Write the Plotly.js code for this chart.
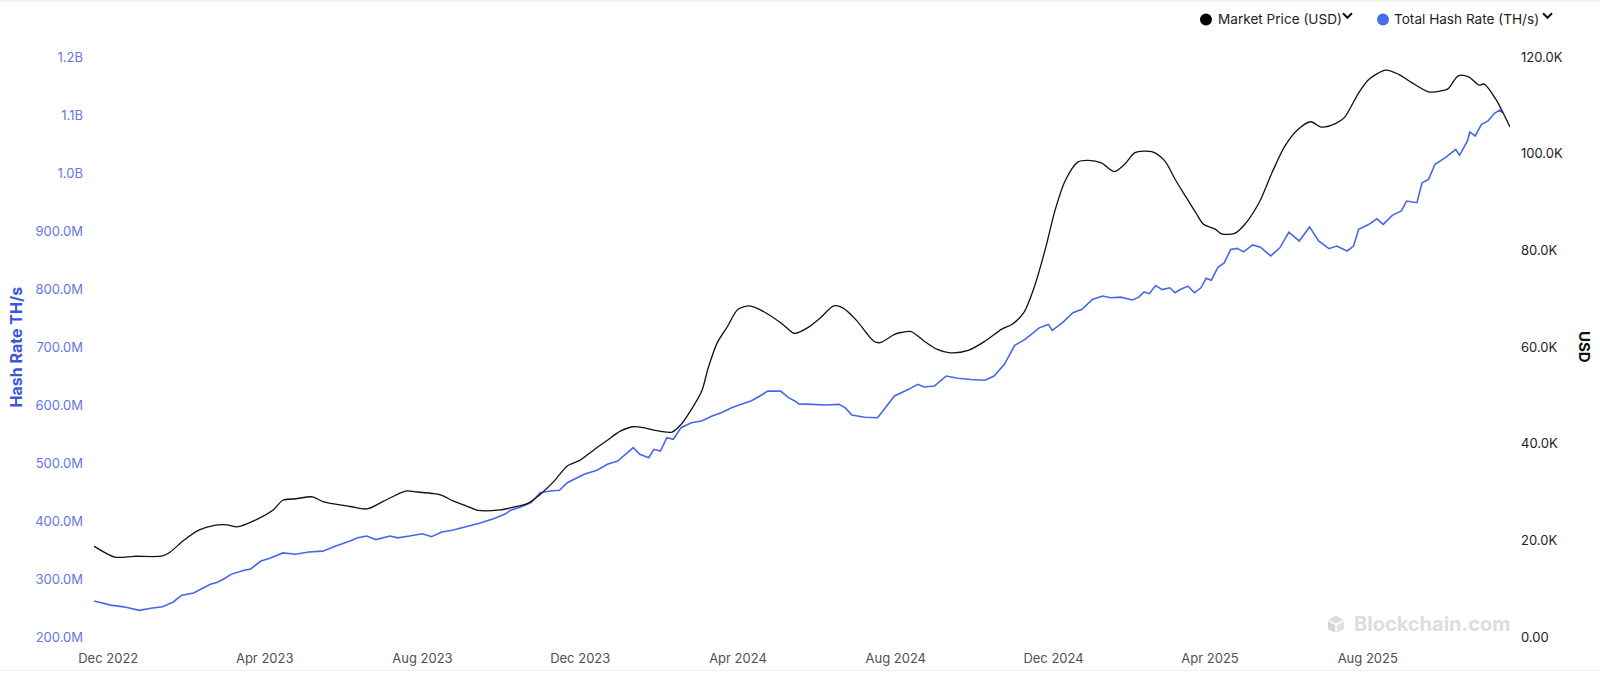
<!DOCTYPE html>
<html>
<head>
<meta charset="utf-8">
<script src="https://cdn.plot.ly/plotly-3.0.1.min.js"></script>
<style>
  html, body { margin: 0; padding: 0; background: #ffffff; }
  #chart { width: 1600px; height: 680px; }
</style>
</head>
<body>
<div id="chart"></div>
<script>
// ---- Market Price (USD), 30-day average ----
const priceDates = [
  '2022-11-20','2022-12-06','2022-12-21','2023-01-12','2023-01-18','2023-01-28','2023-02-09','2023-02-21',
  '2023-03-03','2023-03-11','2023-03-26','2023-04-08','2023-04-15','2023-04-25','2023-05-08','2023-05-16',
  '2023-06-06','2023-06-19','2023-07-02','2023-07-19','2023-07-28','2023-08-10','2023-08-16','2023-08-25',
  '2023-09-04','2023-09-13','2023-09-30','2023-10-11','2023-10-21','2023-10-31','2023-11-11','2023-11-21',
  '2023-12-01','2023-12-12','2023-12-22','2024-01-01','2024-01-11','2024-01-19','2024-01-27','2024-02-10',
  '2024-02-17','2024-02-25','2024-03-04','2024-03-09','2024-03-16','2024-03-24','2024-04-01','2024-04-10',
  '2024-04-21','2024-05-04','2024-05-13','2024-05-15','2024-05-25','2024-06-04','2024-06-14','2024-06-21',
  '2024-07-02','2024-07-09','2024-07-15','2024-07-20','2024-07-31','2024-08-05','2024-08-13','2024-08-23',
  '2024-09-02','2024-09-12','2024-09-26','2024-10-09','2024-10-22','2024-10-30','2024-11-08','2024-11-16',
  '2024-11-25','2024-12-02','2024-12-10','2024-12-20','2024-12-28','2025-01-07','2025-01-17','2025-01-25',
  '2025-02-02','2025-02-15','2025-02-25','2025-03-05','2025-03-13','2025-03-21','2025-03-27','2025-04-05',
  '2025-04-10','2025-04-20','2025-04-28','2025-05-09','2025-05-19','2025-05-29','2025-06-08','2025-06-18',
  '2025-06-26','2025-07-07','2025-07-14','2025-07-25','2025-08-02','2025-08-15','2025-08-25','2025-09-04',
  '2025-09-17','2025-09-27','2025-10-02','2025-10-10','2025-10-18','2025-10-26','2025-10-30','2025-11-08',
  '2025-11-19'
];
const priceUSD = [
  18800,16550,16700,16760,17600,19900,22100,23100,
  23200,22800,24350,26400,28300,28600,29000,28000,
  27000,26500,28100,30200,30000,29650,29300,28100,
  27100,26200,26300,26900,27600,29500,32300,35400,
  36600,38800,40700,42600,43500,43300,42800,42400,
  44000,47100,50900,55700,60900,64300,67800,68500,
  67300,65000,63000,62800,64000,66100,68500,68100,
  65400,63000,61200,60900,62600,63000,63200,61200,
  59500,58800,59300,61200,63700,64700,67100,72300,
  80600,88100,94400,98300,98600,98100,96300,97800,
  100200,100400,98500,94700,91200,87800,85400,84400,
  83400,83500,85400,89900,96100,101600,105000,106600,
  105500,106200,107500,112600,115400,117300,116400,114700,
  112800,113000,113400,116100,115900,114200,114400,111300,
  105500
];

// ---- Total Hash Rate (millions of TH/s) ----
const hashDates = [
  '2022-11-20','2022-12-03','2022-12-13','2022-12-25','2023-01-03','2023-01-12','2023-01-20','2023-01-27',
  '2023-02-05','2023-02-18','2023-02-23','2023-02-28','2023-03-06','2023-03-16','2023-03-21','2023-03-29',
  '2023-04-05','2023-04-15','2023-04-25','2023-05-05','2023-05-16','2023-05-26','2023-06-06','2023-06-12',
  '2023-06-19','2023-06-26','2023-07-07','2023-07-13','2023-07-22','2023-08-01','2023-08-08','2023-08-16',
  '2023-08-24','2023-09-03','2023-09-14','2023-09-25','2023-10-04','2023-10-08','2023-10-16','2023-10-24',
  '2023-10-31','2023-11-08','2023-11-15','2023-11-21','2023-11-26','2023-12-04','2023-12-14','2023-12-22',
  '2023-12-30','2024-01-06','2024-01-11','2024-01-16','2024-01-23','2024-01-27','2024-02-01','2024-02-06',
  '2024-02-11','2024-02-17','2024-02-25','2024-03-04','2024-03-12','2024-03-19','2024-03-27','2024-04-03',
  '2024-04-11','2024-04-18','2024-04-24','2024-05-04','2024-05-10','2024-05-15','2024-05-18','2024-05-28',
  '2024-06-08','2024-06-18','2024-06-23','2024-06-28','2024-07-08','2024-07-18','2024-07-24','2024-07-31',
  '2024-08-11','2024-08-18','2024-08-23','2024-08-31','2024-09-09','2024-09-18','2024-09-28','2024-10-09',
  '2024-10-16','2024-10-24','2024-11-01','2024-11-09','2024-11-20','2024-11-27','2024-11-30','2024-12-08',
  '2024-12-16','2024-12-23','2024-12-31','2025-01-08','2025-01-14','2025-01-22','2025-01-31','2025-02-05',
  '2025-02-09','2025-02-13','2025-02-18','2025-02-23','2025-03-01','2025-03-05','2025-03-09','2025-03-15',
  '2025-03-20','2025-03-25','2025-03-29','2025-04-02','2025-04-07','2025-04-12','2025-04-17','2025-04-22',
  '2025-04-27','2025-05-04','2025-05-10','2025-05-18','2025-05-25','2025-06-01','2025-06-09','2025-06-17',
  '2025-06-24','2025-07-02','2025-07-08','2025-07-16','2025-07-21','2025-07-25','2025-08-02','2025-08-08',
  '2025-08-13','2025-08-20','2025-08-27','2025-08-31','2025-09-08','2025-09-12','2025-09-17','2025-09-22',
  '2025-09-30','2025-10-08','2025-10-11','2025-10-17','2025-10-19','2025-10-23','2025-10-28','2025-11-02',
  '2025-11-07','2025-11-11','2025-11-13'
];
const hashRateM = [
  262,255,252,246,249.5,252,260,272,
  276,291,294,299.5,308,315,317,331,
  335.7,345,342.6,346.6,348,357,365.5,371,
  374,368,374,371,374,378,373,381,
  384,390,396,404,412,418.4,424,431.6,
  448.8,451.7,453,466,472,480.5,487.4,497.8,
  503.4,516,526.4,515,509,523.6,520.7,543.6,
  540.9,560.9,569.5,572.4,581,586.7,595.3,601,
  606.9,615.5,624,624,612.6,607,602,601,
  600,601,595,582.8,579,578,595,615.5,
  627,635.7,631,632.8,650,646,644,642.6,
  650,670,703,713,733,739,728.8,742,
  759,765,782,788,785,786,781,786,
  795,792,806,799,802,793.6,799,805,
  793.6,802,818.5,815,837,845,868,870,
  864,876,872,857,871,898,882.8,907,
  882.8,869.5,874,865.5,874,903,911.5,921,
  911.5,927,934.5,951.7,948.8,983,989,1015,
  1026.4,1040.8,1030.5,1055,1070.7,1063.8,1084,1089.7,
  1103,1108.6,1104
];

// ---- Axis ticks ----
const hashTickVals = [200,300,400,500,600,700,800,900,1000,1100,1200];
const hashTickText = ['200.0M','300.0M','400.0M','500.0M','600.0M','700.0M','800.0M','900.0M','1.0B','1.1B','1.2B'];
const priceTickVals = [0,20000,40000,60000,80000,100000,120000];
const priceTickText = ['0.00','20.0K','40.0K','60.0K','80.0K','100.0K','120.0K'];
const xRange = ['2022-11-20','2025-11-19'];

const BLUE = '#4767ea';
const FONT = 'Inter, "Noto Sans", "DejaVu Sans", sans-serif';

const traces = [
  {
    x: hashDates, y: hashRateM, type: 'scatter', mode: 'lines',
    name: 'Total Hash Rate (TH/s)', yaxis: 'y',
    line: { color: BLUE, width: 1.6 }
  },
  {
    x: priceDates, y: priceUSD, type: 'scatter', mode: 'lines',
    name: 'Market Price (USD)', yaxis: 'y2',
    line: { color: '#111111', width: 1.3, shape: 'spline', smoothing: 0.8 }
  }
];

const cubeSvg = '<svg xmlns="http://www.w3.org/2000/svg" viewBox="0 0 20 20">' +
  '<path d="M10 1 L18 5.4 L10 9.8 L2 5.4 Z" fill="#dcdcdc"/>' +
  '<path d="M1.6 7 L9.2 11.2 L9.2 19.4 L1.6 15.2 Z" fill="#d6d6d6"/>' +
  '<path d="M18.4 7 L10.8 11.2 L10.8 19.4 L18.4 15.2 Z" fill="#e2e2e2"/>' +
  '</svg>';

const layout = {
  width: 1600, height: 680,
  margin: { l: 94, r: 90, t: 57, b: 43 },
  paper_bgcolor: '#ffffff', plot_bgcolor: '#ffffff',
  font: { family: FONT, size: 13, color: '#333' },
  showlegend: false,
  xaxis: {
    type: 'date', range: xRange,
    showgrid: false, zeroline: false, showline: false, ticks: '',
    dtick: 'M4', tick0: '2022-12-01', tickformat: '%b %Y',
    tickfont: { family: FONT, size: 13, color: '#505050' },
    ticklabelstandoff: 12
  },
  yaxis: {
    range: [200, 1200], side: 'left',
    tickvals: hashTickVals, ticktext: hashTickText,
    showgrid: false, zeroline: false, showline: false, ticks: '',
    tickfont: { family: FONT, size: 13, color: '#6478e2' },
    ticklabelstandoff: 10
  },
  yaxis2: {
    range: [0, 120000], side: 'right', overlaying: 'y',
    tickvals: priceTickVals, ticktext: priceTickText,
    showgrid: false, zeroline: false, showline: false, ticks: '',
    tickfont: { family: FONT, size: 13, color: '#222' },
    ticklabelstandoff: 10
  },
  annotations: [
    { text: '<b>Hash Rate TH/s</b>', xref: 'paper', yref: 'paper', x: -0.0548, y: 0.5,
      xanchor: 'center', yanchor: 'middle', textangle: -90, showarrow: false,
      font: { family: FONT, size: 16, color: '#3a57dc' } },
    { text: '<b>USD</b>', xref: 'paper', yref: 'paper', x: 1.053, y: 0.5,
      xanchor: 'center', yanchor: 'middle', textangle: 90, showarrow: false,
      font: { family: FONT, size: 15, color: '#111' } },
    { text: 'Market Price (USD)', xref: 'paper', yref: 'paper', x: 0.7925, y: 1.0647,
      xanchor: 'left', yanchor: 'middle', showarrow: false,
      font: { family: FONT, size: 13.6, color: '#222' } },
    { text: 'Total Hash Rate (TH/s)', xref: 'paper', yref: 'paper', x: 0.9170, y: 1.0647,
      xanchor: 'left', yanchor: 'middle', showarrow: false,
      font: { family: FONT, size: 13.6, color: '#222' } },
    { text: '<b>Blockchain.com</b>', xref: 'paper', yref: 'paper', x: 0.8884, y: 0.0224,
      xanchor: 'left', yanchor: 'middle', showarrow: false,
      font: { family: FONT, size: 20, color: '#dddddd' } }
  ],
  shapes: [
    { type: 'line', xref: 'paper', yref: 'paper', x0: -0.0666, x1: 1.0636, y0: -0.0578, y1: -0.0578,
      line: { color: '#efefef', width: 1 } },
    { type: 'line', xref: 'paper', yref: 'paper', x0: -0.0666, x1: 1.0636, y0: 1.0966, y1: 1.0966,
      line: { color: '#ececec', width: 1.5 } },
    { type: 'circle', xref: 'paper', yref: 'paper', xsizemode: 'pixel', ysizemode: 'pixel',
      xanchor: 0.7853, yanchor: 1.0647, x0: -6, x1: 6, y0: -6, y1: 6,
      fillcolor: '#000', line: { width: 0 } },
    { type: 'circle', xref: 'paper', yref: 'paper', xsizemode: 'pixel', ysizemode: 'pixel',
      xanchor: 0.9103, yanchor: 1.0647, x0: -6, x1: 6, y0: -6, y1: 6,
      fillcolor: '#4b6cf0', line: { width: 0 } },
    { type: 'path', xref: 'paper', yref: 'paper', xsizemode: 'pixel', ysizemode: 'pixel',
      xanchor: 0.8852, yanchor: 1.0716, path: 'M -4.5 2.2 L 0 -2.3 L 4.5 2.2',
      line: { color: '#111', width: 2 } },
    { type: 'path', xref: 'paper', yref: 'paper', xsizemode: 'pixel', ysizemode: 'pixel',
      xanchor: 1.0265, yanchor: 1.0716, path: 'M -4.5 2.2 L 0 -2.3 L 4.5 2.2',
      line: { color: '#111', width: 2 } }
  ],
  images: [
    { source: 'data:image/svg+xml;charset=utf-8,' + encodeURIComponent(cubeSvg),
      xref: 'paper', yref: 'paper', x: 0.8771, y: 0.0224, sizex: 0.0134, sizey: 0.033,
      xanchor: 'center', yanchor: 'middle', sizing: 'contain', layer: 'below' }
  ]
};

Plotly.newPlot('chart', traces, layout, { staticPlot: true, displayModeBar: false });
</script>
</body>
</html>
